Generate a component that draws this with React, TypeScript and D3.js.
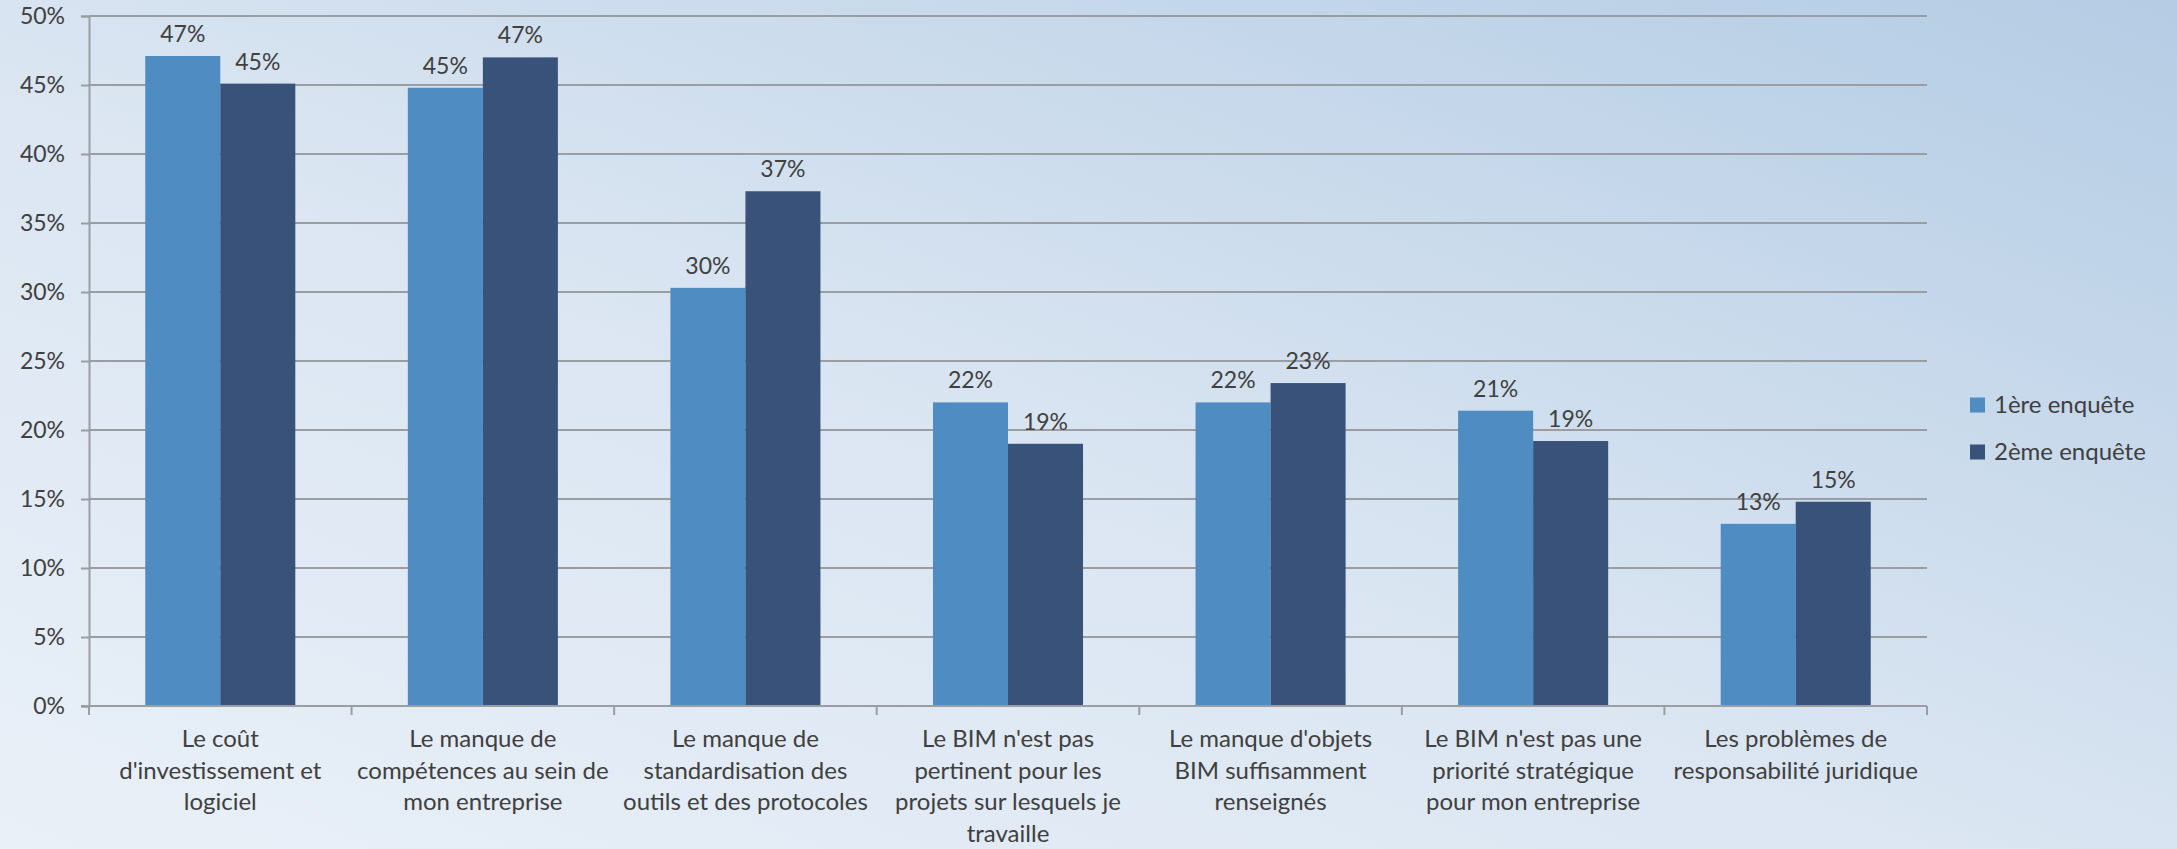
import React, { useEffect, useRef } from "react";
import * as d3 from "d3";

// categories (one array of lines per label, as wrapped in the picture)
const categories: string[][] = [
	["Le coût", "d'investissement et", "logiciel"],
	["Le manque de", "compétences au sein de", "mon entreprise"],
	["Le manque de", "standardisation des", "outils et des protocoles"],
	["Le BIM n'est pas", "pertinent pour les", "projets sur lesquels je", "travaille"],
	["Le manque d'objets", "BIM suffisamment", "renseignés"],
	["Le BIM n'est pas une", "priorité stratégique", "pour mon entreprise"],
	["Les problèmes de", "responsabilité juridique"],
];

const series = ["1ère enquête", "2ème enquête"];
const enquete1 = [47.1, 44.8, 30.3, 22.0, 22.0, 21.4, 13.2];
const enquete2 = [45.1, 47.0, 37.3, 19.0, 23.4, 19.2, 14.8];
const yTicks = [0, 5, 10, 15, 20, 25, 30, 35, 40, 45, 50];

const colors = ["#4f8cc1", "#38527a"];

export default function App() {
	const svgRef = useRef<SVGSVGElement | null>(null);

	useEffect(() => {
		document.body.style.margin = "0";
		if (!svgRef.current) return;

		const width = 2177;
		const height = 849;
		const margin = { top: 16, right: 250, bottom: 143, left: 89 };
		const font = "Lato, 'Open Sans', sans-serif";
		const textColor = "#404040";

		const svg = d3.select(svgRef.current);
		svg.selectAll("*").remove();

		// background gradient
		const defs = svg.append("defs");
		const grad = defs
			.append("linearGradient")
			.attr("id", "bg")
			.attr("x1", "0%")
			.attr("y1", "100%")
			.attr("x2", "100%")
			.attr("y2", "0%");
		grad.append("stop").attr("offset", "0%").attr("stop-color", "#e9f0f8");
		grad.append("stop").attr("offset", "45%").attr("stop-color", "#dbe6f2");
		grad.append("stop").attr("offset", "100%").attr("stop-color", "#b4cce4");
		svg.append("rect").attr("width", width).attr("height", height).attr("fill", "url(#bg)");

		const x0 = d3
			.scaleBand<number>()
			.domain(d3.range(categories.length))
			.range([margin.left, width - margin.right])
			.paddingInner(0)
			.paddingOuter(0);
		const x1 = d3
			.scaleBand<number>()
			.domain([0, 1])
			.range([0, x0.bandwidth()])
			.paddingOuter(0.75);
		const y = d3
			.scaleLinear()
			.domain([0, 50])
			.range([height - margin.bottom, margin.top]);

		// gridlines
		svg
			.append("g")
			.selectAll("line")
			.data(yTicks.filter((t) => t > 0))
			.enter()
			.append("line")
			.attr("x1", margin.left)
			.attr("x2", width - margin.right)
			.attr("y1", (d) => y(d))
			.attr("y2", (d) => y(d))
			.attr("stroke", "#9a9ea3")
			.attr("stroke-width", 2);

		// bars
		const groups = svg
			.append("g")
			.selectAll("g")
			.data(categories.map((_, i) => i))
			.enter()
			.append("g")
			.attr("transform", (i) => `translate(${x0(i)},0)`);

		const values = [enquete1, enquete2];
		groups
			.selectAll("rect")
			.data((i) => values.map((v, s) => ({ s, v: v[i] })))
			.enter()
			.append("rect")
			.attr("x", (d) => x1(d.s)!)
			.attr("width", x1.bandwidth())
			.attr("y", (d) => y(d.v))
			.attr("height", (d) => y(0) - y(d.v))
			.attr("fill", (d) => colors[d.s]);

		groups
			.selectAll("text")
			.data((i) => values.map((v, s) => ({ s, v: v[i] })))
			.enter()
			.append("text")
			.attr("x", (d) => x1(d.s)! + x1.bandwidth() / 2)
			.attr("y", (d) => y(d.v) - 14)
			.attr("text-anchor", "middle")
			.attr("font-family", font)
			.attr("font-size", 23)
			.attr("fill", textColor)
			.text((d) => `${Math.round(d.v)}%`);

		// axes
		const axisColor = "#9a9ea3";
		const yAxis = svg
			.append("g")
			.attr("transform", `translate(${margin.left},0)`)
			.call(
				d3
					.axisLeft(y)
					.tickValues(yTicks)
					.tickSize(8)
					.tickPadding(16)
					.tickFormat((d) => `${d}%`)
			);
		yAxis.select(".domain").attr("stroke", axisColor).attr("stroke-width", 2);
		yAxis.selectAll(".tick line").attr("stroke", axisColor).attr("stroke-width", 2);
		yAxis
			.selectAll(".tick text")
			.attr("font-family", font)
			.attr("font-size", 23)
			.attr("fill", textColor);

		const xAxisG = svg.append("g").attr("transform", `translate(0,${y(0)})`);
		xAxisG
			.append("line")
			.attr("x1", margin.left - 8)
			.attr("x2", width - margin.right)
			.attr("stroke", axisColor)
			.attr("stroke-width", 2);
		xAxisG
			.selectAll("line.tick")
			.data(d3.range(categories.length + 1))
			.enter()
			.append("line")
			.attr("class", "tick")
			.attr("x1", (i) => margin.left + i * x0.step())
			.attr("x2", (i) => margin.left + i * x0.step())
			.attr("y1", 0)
			.attr("y2", 9)
			.attr("stroke", axisColor)
			.attr("stroke-width", 2);

		// category labels
		xAxisG
			.selectAll("text.cat")
			.data(categories)
			.enter()
			.append("text")
			.attr("class", "cat")
			.attr("text-anchor", "middle")
			.attr("font-family", font)
			.attr("font-size", 24)
			.attr("fill", textColor)
			.each(function (lines, i) {
				const t = d3.select(this);
				lines.forEach((l, k) => {
					t.append("tspan")
						.attr("x", x0(i)! + x0.bandwidth() / 2)
						.attr("y", 41 + k * 31.7)
						.text(l);
				});
			});

		// legend
		const legend = svg.append("g").attr("transform", `translate(1970,0)`);
		series.forEach((s, i) => {
			const cy = 405 + i * 47;
			legend
				.append("rect")
				.attr("x", 0)
				.attr("y", cy - 7.5)
				.attr("width", 15)
				.attr("height", 15)
				.attr("fill", colors[i]);
			legend
				.append("text")
				.attr("x", 24)
				.attr("y", cy + 8)
				.attr("font-family", font)
				.attr("font-size", 24)
				.attr("fill", textColor)
				.text(s);
		});
	}, []);

	return <svg ref={svgRef} width={2177} height={849} style={{ display: "block" }} />;
}
